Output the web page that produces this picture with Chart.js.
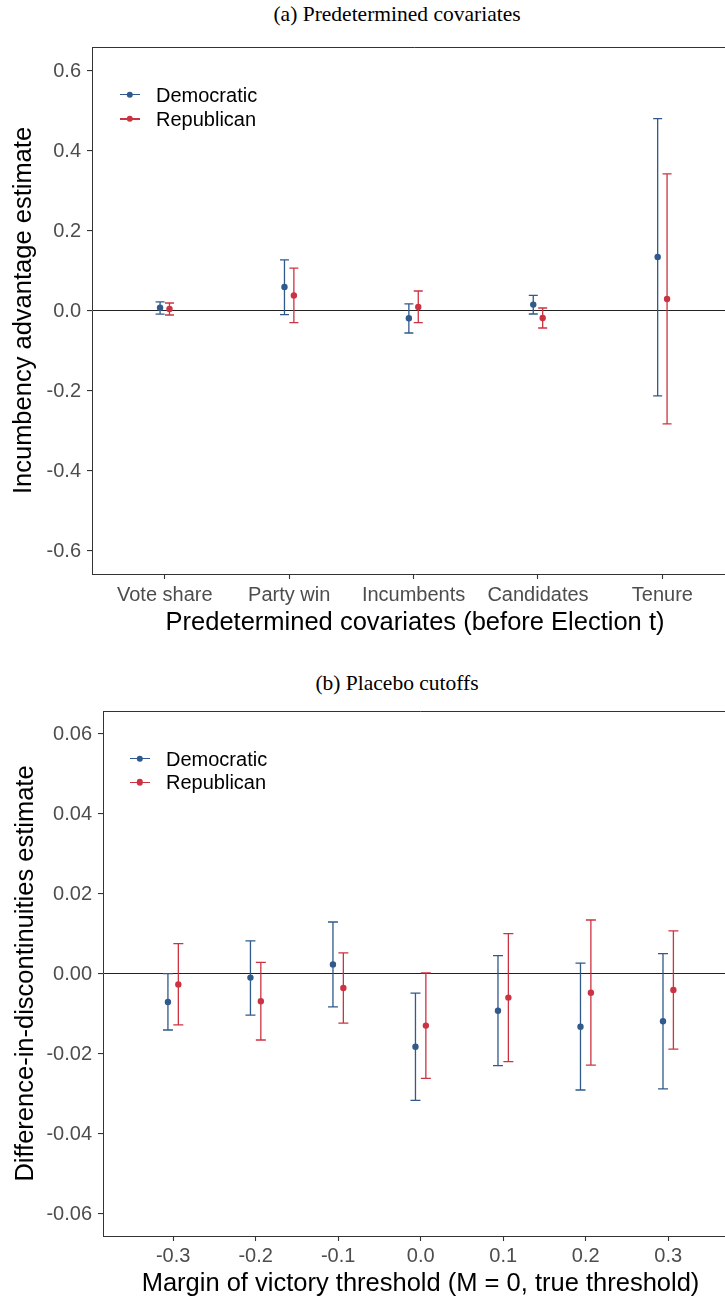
<!DOCTYPE html>
<html><head><meta charset="utf-8">
<script src="https://cdn.jsdelivr.net/npm/chart.js@4.4.1/dist/chart.umd.min.js"></script>
<style>
html,body{margin:0;padding:0;background:#fff;overflow:hidden;}
body{width:725px;height:1301px;position:relative;}
.wrap{position:absolute;left:0;}
.ptitle{position:absolute;font-family:"Liberation Serif","DejaVu Serif",serif;font-size:21.5px;color:#000;white-space:nowrap;transform:translate(-50%,-50%);line-height:24px;}
.legend{position:absolute;left:0;top:0;font-family:"Liberation Sans",Arial,sans-serif;font-size:20px;color:#000;}
.lrow{position:absolute;white-space:nowrap;height:24px;line-height:24px;transform:translateY(-50%);}
.sym{position:absolute;top:0;height:24px;}
.sym .ln{position:absolute;left:0;right:0;top:11.35px;height:1.3px;}
.sym .dt{position:absolute;left:50%;top:12px;width:6.4px;height:6.4px;border-radius:50%;transform:translate(-50%,-50%);}
.lbl{position:absolute;top:0;}
</style>
</head><body>
<div class="ptitle" id="titleA" style="left:397px;top:14px;">(a) Predetermined covariates</div>
<div class="ptitle" id="titleB" style="left:397px;top:683px;">(b) Placebo cutoffs</div>
<div class="wrap" style="top:0;width:738px;height:645px;"><canvas id="c1" width="738" height="645"></canvas></div>
<div class="wrap" style="top:650px;width:738px;height:651px;"><canvas id="c2" width="738" height="651"></canvas></div>
<div id="legA"></div>
<div id="legB"></div>
<script>
// ---------- DATA ----------
const seriesNames = ['Democratic', 'Republican'];
const seriesColors = ['#30598c', '#cc3342'];

// Panel (a): predetermined covariates
const covariates = ['Vote share', 'Party win', 'Incumbents', 'Candidates', 'Tenure'];
const demEstA = [0.008, 0.060, -0.018, 0.016, 0.135];
const demLoA  = [-0.008, -0.009, -0.055, -0.0075, -0.212];
const demHiA  = [0.023, 0.128, 0.018, 0.039, 0.481];
const repEstA = [0.005, 0.039, 0.010, -0.0175, 0.030];
const repLoA  = [-0.010, -0.029, -0.029, -0.0425, -0.282];
const repHiA  = [0.020, 0.107, 0.050, 0.0075, 0.343];
const yTicksA = [-0.6, -0.4, -0.2, 0.0, 0.2, 0.4, 0.6];

// Panel (b): placebo cutoffs
const thresholds = [-0.3, -0.2, -0.1, 0.0, 0.1, 0.2, 0.3];
const demEstB = [-0.0070, -0.0009, 0.0024, -0.0182, -0.0092, -0.0132, -0.0118];
const demLoB  = [-0.0140, -0.0103, -0.0082, -0.0316, -0.0229, -0.0290, -0.0287];
const demHiB  = [0.0001, 0.0083, 0.0130, -0.0048, 0.0046, 0.0027, 0.0051];
const repEstB = [-0.0026, -0.0068, -0.0035, -0.0129, -0.0059, -0.0047, -0.0040];
const repLoB  = [-0.0127, -0.0165, -0.0123, -0.0261, -0.0219, -0.0228, -0.0188];
const repHiB  = [0.0076, 0.0029, 0.0053, 0.0003, 0.0101, 0.0135, 0.0108];
const yTicksB = [-0.06, -0.04, -0.02, 0.00, 0.02, 0.04, 0.06];

// ---------- STYLE ----------
const SANS = '"Liberation Sans", Arial, sans-serif';
const TICK_COLOR = '#4d4d4d';
const FRAME = '#333333';

const errorBars = {
  id: 'errorBars',
  beforeDatasetsDraw(chart, args, opts) {
    const {ctx} = chart;
    const xs = chart.scales.x, ys = chart.scales.y;
    ctx.save();
    chart.data.datasets.forEach((ds) => {
      ctx.strokeStyle = ds.borderColor;
      ctx.lineWidth = 1.3;
      ds.data.forEach(p => {
        const px = xs.getPixelForValue(p.x);
        const y1 = ys.getPixelForValue(p.lo), y2 = ys.getPixelForValue(p.hi);
        const w = opts.cap;
        ctx.beginPath();
        ctx.moveTo(px, y1); ctx.lineTo(px, y2);
        ctx.moveTo(px - w, y1); ctx.lineTo(px + w, y1);
        ctx.moveTo(px - w, y2); ctx.lineTo(px + w, y2);
        ctx.stroke();
      });
    });
    ctx.restore();
  }
};

const panelFrame = {
  id: 'panelFrame',
  afterDraw(chart) {
    const {ctx, chartArea} = chart;
    ctx.save();
    ctx.strokeStyle = FRAME;
    ctx.lineWidth = 1;
    ctx.beginPath();
    ctx.moveTo(chartArea.left, chartArea.top + 0.5);
    ctx.lineTo(chartArea.right - 0.5, chartArea.top + 0.5);
    ctx.lineTo(chartArea.right - 0.5, chartArea.bottom);
    ctx.stroke();
    ctx.restore();
  }
};

function makeDatasets(xs, dodge, ests, los, his) {
  return ests.map((est, s) => ({
    label: seriesNames[s],
    data: est.map((v, i) => ({x: xs[i] + (s === 0 ? -dodge : dodge), y: v, lo: los[s][i], hi: his[s][i]})),
    backgroundColor: seriesColors[s],
    borderColor: seriesColors[s],
    pointRadius: 3.2,
    pointBorderWidth: 0,
    showLine: false
  }));
}

function makeChart(id, cfg) {
  return new Chart(document.getElementById(id), {
    type: 'scatter',
    data: {datasets: cfg.datasets},
    plugins: [errorBars, panelFrame],
    options: {
      responsive: false,
      animation: false,
      events: [],
      layout: {autoPadding: false, padding: {top: cfg.padTop, left: 0, right: 0, bottom: 0}},
      plugins: {legend: {display: false}, tooltip: {enabled: false}, errorBars: {cap: cfg.cap}},
      scales: {
        x: {
          type: 'linear', min: cfg.xMin, max: cfg.xMax,
          afterBuildTicks: sc => { sc.ticks = cfg.xTicks.map(v => ({value: v})); },
          afterFit: sc => { sc.height = cfg.xHeight; sc.paddingLeft = 0; sc.paddingRight = 0; },
          ticks: {autoSkip: false, maxRotation: 0, color: TICK_COLOR, font: {family: SANS, size: 20}, padding: cfg.xTickPad, callback: cfg.xLabel},
          grid: {drawOnChartArea: false, tickLength: 5, tickColor: FRAME, tickWidth: 1.1},
          border: {display: true, color: FRAME, width: 1},
          title: {display: true, text: cfg.xTitle, color: '#000', font: {family: SANS, size: 25.5}, padding: {top: 0, bottom: cfg.xTitlePad}}
        },
        y: {
          type: 'linear', min: cfg.yMin, max: cfg.yMax,
          afterBuildTicks: sc => { sc.ticks = cfg.yTicks.map(v => ({value: v})); },
          afterFit: sc => { sc.width = cfg.yWidth; },
          ticks: {color: TICK_COLOR, font: {family: SANS, size: 20}, padding: 6, callback: cfg.yLabel},
          grid: {
            drawOnChartArea: true,
            color: c => (c.tick && Math.abs(c.tick.value) < 1e-12) ? '#222' : 'rgba(0,0,0,0)',
            lineWidth: 1.1,
            tickLength: 5, tickColor: FRAME, tickWidth: 1.1
          },
          border: {display: true, color: FRAME, width: 1},
          title: {display: true, text: cfg.yTitle, color: '#000', font: {family: SANS, size: 25.5}, padding: {top: cfg.yTitlePad, bottom: 0}}
        }
      }
    }
  });
}

const xIdx = covariates.map((c, i) => i + 1);

makeChart('c1', {
  datasets: makeDatasets(xIdx, 0.0378, [demEstA, repEstA], [demLoA, repLoA], [demHiA, repHiA]),
  padTop: 47, xHeight: 71, yWidth: 92, cap: 4.5,
  xMin: 0.415, xMax: 5.608, xTicks: xIdx, xLabel: v => covariates[Math.round(v) - 1],
  xTickPad: 4, xTitlePad: 7,
  xTitle: 'Predetermined covariates (before Election t)',
  yMin: -0.6575, yMax: 0.66, yTicks: yTicksA, yLabel: v => v.toFixed(1),
  yTitle: 'Incumbency advantage estimate', yTitlePad: 9
});

makeChart('c2', {
  datasets: makeDatasets(thresholds, 0.0063, [demEstB, repEstB], [demLoB, repLoB], [demHiB, repHiB]),
  padTop: 61, xHeight: 65, yWidth: 103, cap: 5,
  xMin: -0.385, xMax: 0.3846, xTicks: thresholds, xLabel: v => v.toFixed(1),
  xTickPad: 3, xTitlePad: 2,
  xTitle: 'Margin of victory threshold (M = 0, true threshold)',
  yMin: -0.0655, yMax: 0.06575, yTicks: yTicksB, yLabel: v => v.toFixed(2),
  yTitle: 'Difference-in-discontinuities estimate', yTitlePad: 11
});

// ---------- LEGENDS (HTML, real text) ----------
function buildLegend(holderId, symLeft, symWidth, textLeft, rowYs) {
  const holder = document.getElementById(holderId);
  holder.className = 'legend';
  seriesNames.forEach((name, s) => {
    const row = document.createElement('div');
    row.className = 'lrow';
    row.style.left = '0px';
    row.style.top = rowYs[s] + 'px';
    const sym = document.createElement('div');
    sym.className = 'sym';
    sym.style.left = symLeft + 'px';
    sym.style.width = symWidth + 'px';
    sym.innerHTML = '<div class="ln" style="background:' + seriesColors[s] + '"></div><div class="dt" style="background:' + seriesColors[s] + '"></div>';
    const lbl = document.createElement('div');
    lbl.className = 'lbl';
    lbl.style.left = textLeft + 'px';
    lbl.textContent = name;
    row.appendChild(sym); row.appendChild(lbl);
    holder.appendChild(row);
  });
}
buildLegend('legA', 120, 20, 156, [94.5, 119]);
buildLegend('legB', 130, 19.5, 166, [758.7, 782.3]);
</script>
</body></html>
